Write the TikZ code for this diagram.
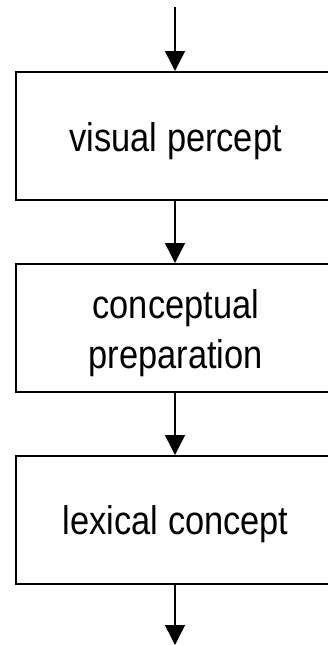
\documentclass[tikz,border=0pt]{standalone}
\usepackage{fontspec}
\setmainfont{Liberation Sans}
\newfontfamily\boxfont[FakeStretch=0.86]{Liberation Sans}
\usetikzlibrary{arrows.meta}
\begin{document}
\begin{tikzpicture}[x=1pt,y=-1pt,
  stagebox/.style={draw,line width=1.5pt,minimum width=320pt,minimum height=128pt,
    inner sep=0pt,anchor=north west},
  caption/.style={inner sep=0pt,anchor=base,font=\boxfont\fontsize{40}{50}\selectfont},
  flow/.style={line width=1.5pt,-{Triangle[length=20pt,width=20pt]}}]
\useasboundingbox (0,0) rectangle (327,645);
\coordinate (in) at (175,7);
\coordinate (out) at (175,645);
% the three stages
\node[stagebox] (vp) at (15,71) {};
\node[stagebox] (cp) at (15,263) {};
\node[stagebox] (lc) at (15,455) {};
\node[caption] (vpt) at ([yshift=-16pt]vp.center) {visual percept};
\node[caption] (cpt1) at ([yshift=9pt]cp.center) {conceptual};
\node[caption] (cpt2) at ([yshift=-41pt]cp.center) {preparation};
\node[caption] (lct) at ([yshift=-15pt]lc.center) {lexical concept};
% connectors
\draw[flow] (in) -- (vp.north -| in);
\draw[flow] (vp.south -| in) -- (cp.north -| in);
\draw[flow] (cp.south -| in) -- (lc.north -| in);
\draw[flow] (lc.south -| in) -- (out);
\end{tikzpicture}
\end{document}
